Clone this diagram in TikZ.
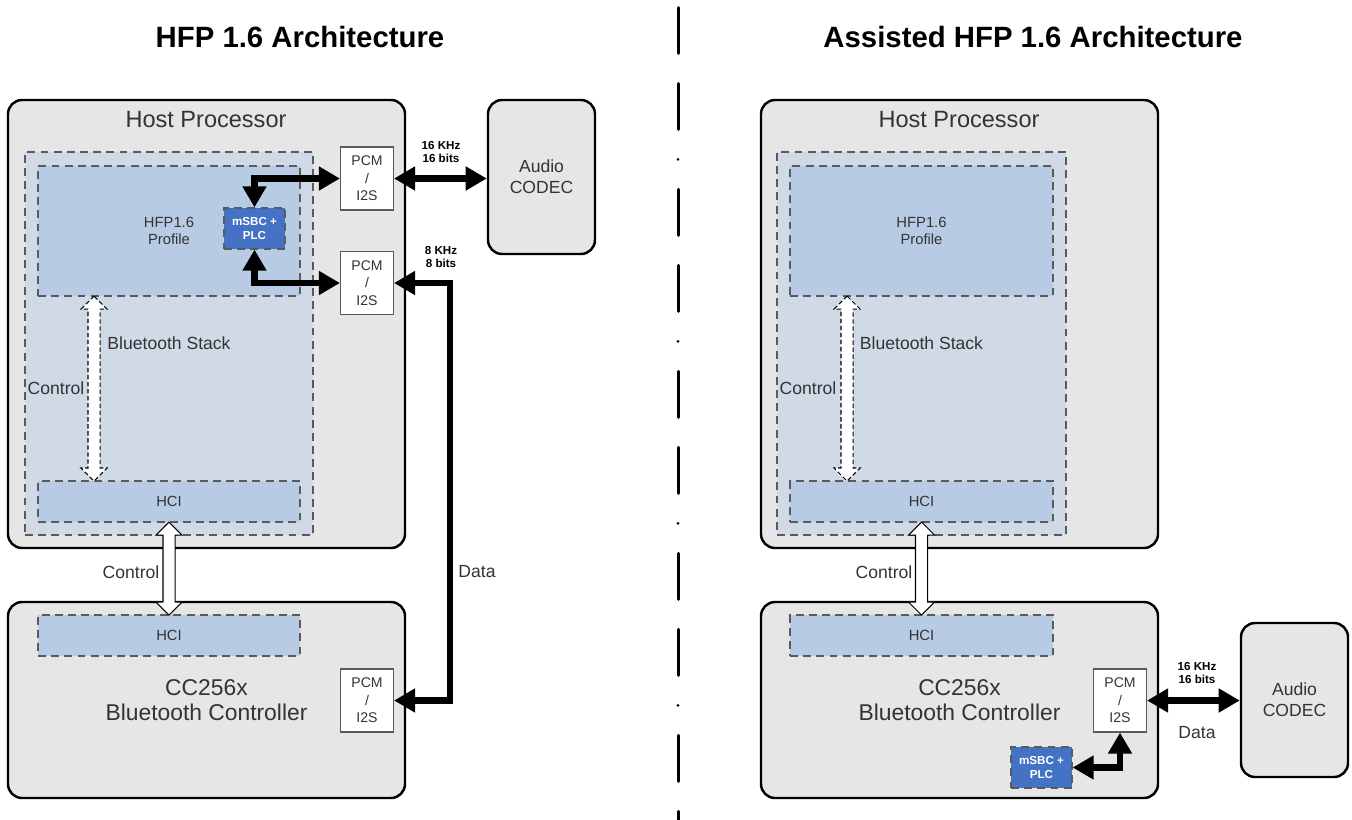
\documentclass[tikz,border=0pt]{standalone}
\usepackage{fontspec}
\setmainfont{Liberation Sans}
\usetikzlibrary{arrows.meta,shapes.arrows,calc}
\definecolor{boxgray}{HTML}{E6E6E6}
\definecolor{stackblue}{HTML}{D0DAE7}
\definecolor{hfpblue}{HTML}{B8CBE4}
\definecolor{codecblue}{HTML}{4472C4}
\definecolor{dashgray}{HTML}{5A5A5A}
\definecolor{txtgray}{HTML}{333333}

\begin{document}
\begin{tikzpicture}[x=0.02cm,y=-0.02cm,
  wh/.style 2 args={minimum width=#1*0.02cm,minimum height=#2*0.02cm},
  chip/.style={draw=black,line width=1.4pt,fill=boxgray,rounded corners=0.28cm,inner sep=0pt,text=txtgray},
  layer/.style={draw=dashgray,line width=0.7pt,dash pattern=on 4.5pt off 3pt,inner sep=0pt,text=txtgray},
  pcm/.style={draw=dashgray,fill=white,line width=0.6pt,wh={53}{63},align=center,font=\fontsize{8}{10}\selectfont,text=txtgray,inner sep=0pt},
  codec/.style={layer,fill=codecblue,wh={61}{41},align=center,text=white,font=\fontsize{6.6}{8.5}\selectfont\bfseries},
  audio/.style={chip,wh={107}{154},align=center,font=\fontsize{10}{12}\selectfont},
  lbl/.style={font=\fontsize{10}{12}\selectfont,text=txtgray},
  rate/.style={align=center,font=\fontsize{6.6}{7.7}\selectfont\bfseries},
  title/.style={font=\fontsize{16.7}{20}\selectfont\bfseries},
  data/.style={line width=3.8pt,{Triangle[length=12pt,width=13pt]}-{Triangle[length=12pt,width=13pt]}},
  ctrl/.style={double arrow,draw=black,fill=white,line width=0.6pt,inner sep=0pt,inner ysep=0.11cm,double arrow head extend=0.14cm,rotate=90},
  divider/.style={line width=1.7pt,line cap=round,dash pattern=on 0.92cm off 0.6cm on 0.92cm off 0.6cm on 0pt off 0.6cm}]
  \useasboundingbox (0,0) rectangle (1352,819);

  \draw[divider] (678,7.5) -- (678,822);

  \node[title] (title1) at (300,37) {HFP 1.6 Architecture};
  \node[title] (title2) at (1033,37) {Assisted HFP 1.6 Architecture};

  \node[chip,wh={397}{448}] (host1) at (206.5,324) {};
  \node[font=\fontsize{13.4}{16}\selectfont,text=txtgray] (hosttxt1) at (206,120) {Host Processor};
  \node[layer,fill=stackblue,wh={288}{383},font=\fontsize{10}{12}\selectfont] (stack1) at (169,343.5) {Bluetooth Stack};
  \node[layer,fill=hfpblue,wh={262}{130},align=center,font=\fontsize{8.4}{9.4}\selectfont] (hfp1) at (169,231) {HFP1.6\\Profile};
  \node[codec] (msbc1) at (254.5,228.5) {mSBC +\\PLC};
  \node[pcm] (pcma) at (367,178.5) {PCM\\/\\I2S};
  \node[pcm] (pcmb) at (367,283) {PCM\\/\\I2S};
  \node[layer,fill=hfpblue,wh={262}{41},font=\fontsize{8.4}{9}\selectfont] (hcia) at (169,501.5) {HCI};
  \node[lbl] (ctrltxt1) at (56,388) {Control};
  \node[chip,wh={397}{196},align=center,font=\fontsize{13}{14.2}\selectfont] (ctrl1) at (206.5,700) {CC256x\\Bluetooth Controller};
  \node[layer,fill=hfpblue,wh={262}{41},font=\fontsize{8.4}{9}\selectfont] (hcib) at (169,635.5) {HCI};
  \node[pcm] (pcmc) at (367,700.5) {PCM\\/\\I2S};
  \node[audio] (codec1) at (541.5,177) {Audio\\CODEC};
  \node[rate] (rate1) at (441,152) {16 KHz\\16 bits};
  \node[rate] (rate2) at (441,257) {8 KHz\\8 bits};
  \node[lbl] (ctrltxt2) at (131,572) {Control};
  \node[lbl] (datatxt1) at (477,572) {Data};

  \draw[data] (pcma.west) -| (msbc1.north);
  \draw[data] (pcmb.west) -| (msbc1.south);
  \draw[data] (pcma.east) -- (pcma.east -| codec1.west);
  \draw[data] (pcmb.east) -- ++(56,0) |- (pcmc.east);
  \node[ctrl,dashed,dash pattern=on 2.5pt off 1.5pt,minimum height=185*0.02cm] (carr1) at ($(94,0 |- hfp1.south)!0.5!(94,0 |- hcia.north)$) {};
  \node[ctrl,minimum height=93*0.02cm] (carr2) at ($(hcia.south)!0.5!(hcib.north)$) {};

  \node[chip,wh={397}{448}] (host2) at (959.5,324) {};
  \node[font=\fontsize{13.4}{16}\selectfont,text=txtgray] (hosttxt2) at (959,120) {Host Processor};
  \node[layer,fill=stackblue,wh={289}{383},font=\fontsize{10}{12}\selectfont] (stack2) at (921.5,343.5) {Bluetooth Stack};
  \node[layer,fill=hfpblue,wh={263}{130},align=center,font=\fontsize{8.4}{9.4}\selectfont] (hfp2) at (921.5,231) {HFP1.6\\Profile};
  \node[layer,fill=hfpblue,wh={263}{41},font=\fontsize{8.4}{9}\selectfont] (hcic) at (921.5,501.5) {HCI};
  \node[lbl] (ctrltxt3) at (808,388) {Control};
  \node[chip,wh={397}{196},align=center,font=\fontsize{13}{14.2}\selectfont] (ctrl2) at (959.5,700) {CC256x\\Bluetooth Controller};
  \node[layer,fill=hfpblue,wh={263}{41},font=\fontsize{8.4}{9}\selectfont] (hcid) at (921.5,635.5) {HCI};
  \node[pcm] (pcmd) at (1120,700.5) {PCM\\/\\I2S};
  \node[codec] (msbc2) at (1041.5,767.5) {mSBC +\\PLC};
  \node[audio] (codec2) at (1294.5,700) {Audio\\CODEC};
  \node[rate] (rate3) at (1197,673) {16 KHz\\16 bits};
  \node[lbl] (datatxt2) at (1197,733) {Data};
  \node[lbl] (ctrltxt4) at (884,572) {Control};

  \draw[data] (msbc2.east) -| (pcmd.south);
  \draw[data] (pcmd.east) -- (pcmd.east -| codec2.west);
  \node[ctrl,dashed,dash pattern=on 2.5pt off 1.5pt,minimum height=185*0.02cm] (carr3) at ($(847,0 |- hfp2.south)!0.5!(847,0 |- hcic.north)$) {};
  \node[ctrl,minimum height=93*0.02cm] (carr4) at ($(hcic.south)!0.5!(hcid.north)$) {};
\end{tikzpicture}
\end{document}
